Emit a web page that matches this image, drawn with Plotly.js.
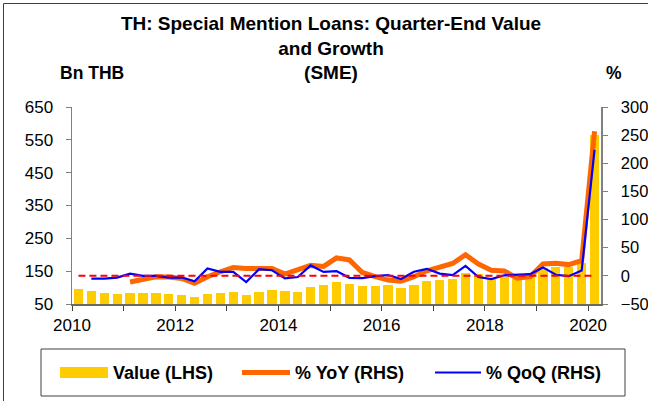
<!DOCTYPE html>
<html>
<head>
<meta charset="utf-8">
<script src="https://cdn.plot.ly/plotly-3.0.1.min.js"></script>
<style>html,body{margin:0;padding:0;background:#fff;}#chart{width:648px;height:401px;}</style>
</head>
<body>
<div id="chart"></div>
<script>
// ---- Data ----
const quarters = [
  '2010Q1','2010Q2','2010Q3','2010Q4','2011Q1','2011Q2','2011Q3','2011Q4',
  '2012Q1','2012Q2','2012Q3','2012Q4','2013Q1','2013Q2','2013Q3','2013Q4',
  '2014Q1','2014Q2','2014Q3','2014Q4','2015Q1','2015Q2','2015Q3','2015Q4',
  '2016Q1','2016Q2','2016Q3','2016Q4','2017Q1','2017Q2','2017Q3','2017Q4',
  '2018Q1','2018Q2','2018Q3','2018Q4','2019Q1','2019Q2','2019Q3','2019Q4',
  '2020Q1'
];
// Value, Bn THB (LHS)
const valueBn = [96, 90, 84, 81, 84, 83, 83, 80, 78, 70,
                 79, 83, 88, 78, 88, 94, 90, 87, 103, 109,
                 117, 111, 106, 106, 107, 100, 107, 119, 124, 125,
                 145, 140, 126, 131, 126, 136, 160, 164, 164, 176,
                 566];
// % YoY (RHS)
const yoyPct = [null, null, null, null,
                -11, -6, -1.5, -2, -4.5, -13, -1.5, 7.3, 15, 13.2,
                12.6, 13.2, 3.2, 11.5, 18.6, 16.8, 32, 28.3, 6, -1.5,
                -7.5, -9.5, -1.5, 9, 16, 22, 37.5, 21, 10, 8.5,
                -4, -1.5, 21, 22.5, 20, 27, 257];
// % QoQ (RHS)
const qoqPct = [null,
                -5, -5, -3, 4, 0, 0, -3, -3, -9.5, 13,
                7, 7, -11, 12, 10, -4.5, -2, 18.5, 7, 8.5,
                -3.5, -4, -0.5, 1.5, -5.7, 7.3, 12.5, 4, 1.4, 17.7,
                -2, -5.7, 1, 1.4, 3, 15, 2, -0.5, 9.5, 224];
const yearTicks = [2010, 2011, 2012, 2013, 2014, 2015, 2016, 2017, 2018, 2019, 2020];
const yearLabels = ['2010', '', '2012', '', '2014', '', '2016', '', '2018', '', '2020'];
const leftTicks = [50, 150, 250, 350, 450, 550, 650];
const rightTicks = [-50, 0, 50, 100, 150, 200, 250, 300];
const seriesNames = ['Value (LHS)', '% YoY (RHS)', '% QoQ (RHS)'];

// quarter label -> position on a continuous year axis (centre of the quarter)
const xPos = quarters.map(q => {
  const y = parseInt(q.slice(0, 4), 10);
  const k = parseInt(q.slice(5), 10);
  return y + (k - 1) / 4 + 0.125;
});

// ---- Layout helpers (pixel -> paper) ----
const W = 648, H = 401;
const M = {l: 72, r: 47, t: 107, b: 97};
const PW = W - M.l - M.r, PH = H - M.t - M.b;
const px = x => (x - M.l) / PW;
const py = y => (H - M.b - y) / PH;

const FONT = '"Liberation Sans", Arial, Helvetica, sans-serif';
const C_BAR = '#FFCC00', C_YOY = '#FF6600', C_QOQ = '#0000FF', C_ZERO = '#FF0000';
const AXIS = '#808080';

const traces = [
  {
    type: 'bar', x: xPos, y: valueBn, name: seriesNames[0], yaxis: 'y',
    width: 0.18, marker: {color: C_BAR, line: {width: 0}}, showlegend: false,
    hoverinfo: 'skip'
  },
  {
    type: 'scatter', mode: 'lines', x: xPos, y: yoyPct, name: seriesNames[1], yaxis: 'y2',
    line: {color: C_YOY, width: 5}, showlegend: false, connectgaps: false
  },
  {
    type: 'scatter', mode: 'lines', x: xPos, y: qoqPct, name: seriesNames[2], yaxis: 'y2',
    line: {color: C_QOQ, width: 2.2}, showlegend: false
  },
  {
    type: 'scatter', mode: 'lines', x: [xPos[0], xPos[xPos.length - 1]], y: [0, 0], yaxis: 'y2',
    line: {color: C_ZERO, width: 2, dash: '7px,4px'}, showlegend: false, hoverinfo: 'skip'
  }
];

const layout = {
  width: W, height: H,
  margin: M,
  paper_bgcolor: '#fff', plot_bgcolor: '#fff',
  font: {family: FONT, size: 17, color: '#000'},
  showlegend: false,
  bargap: 0,
  title: {
    text: '<b>TH: Special Mention Loans: Quarter-End Value<br>and Growth<br>(SME)</b>',
    font: {family: FONT, size: 19, color: '#000'},
    x: 331 / W, xref: 'container', xanchor: 'center',
    y: 1 - 30 / H, yref: 'container', yanchor: 'top'
  },
  xaxis: {
    range: [2010, 2020.25], tickmode: 'array', tickvals: yearTicks, ticktext: yearLabels,
    showgrid: false, zeroline: false, showline: true, linecolor: '#6b6b5a', linewidth: 2,
    ticks: 'outside', ticklen: 5, tickcolor: '#404040', tickwidth: 1,
    tickfont: {family: FONT, size: 17, color: '#000'}, ticklabelstandoff: 0
  },
  yaxis: {
    range: [50, 650], tickmode: 'array', tickvals: leftTicks,
    showgrid: false, zeroline: false, showline: true, linecolor: AXIS, linewidth: 1.5,
    ticks: 'outside', ticklen: 5, tickcolor: AXIS,
    tickfont: {family: FONT, size: 17, color: '#000'}, ticklabelstandoff: 9
  },
  yaxis2: {
    range: [-50, 300], tickmode: 'array', tickvals: rightTicks,
    overlaying: 'y', side: 'right',
    showgrid: false, zeroline: false, showline: true, linecolor: AXIS, linewidth: 1.5,
    ticks: 'outside', ticklen: 5, tickcolor: AXIS,
    tickfont: {family: FONT, size: 16.5, color: '#000'}, ticklabelstandoff: 10
  },
  shapes: [
    // outer chart border (left and top edges visible)
    {type: 'line', xref: 'paper', yref: 'paper', x0: px(3.5), x1: px(3.5), y0: py(3.5), y1: py(401), line: {color: '#404040', width: 1}},
    {type: 'line', xref: 'paper', yref: 'paper', x0: px(3.5), x1: px(648), y0: py(3.5), y1: py(3.5), line: {color: '#404040', width: 1}},
    // legend box
    {type: 'rect', xref: 'paper', yref: 'paper', x0: px(41), x1: px(625), y0: py(349), y1: py(396), line: {color: '#404040', width: 1}, fillcolor: 'rgba(0,0,0,0)'},
    // legend swatches
    {type: 'rect', xref: 'paper', yref: 'paper', x0: px(60), x1: px(108), y0: py(367), y1: py(378), line: {width: 0}, fillcolor: C_BAR},
    {type: 'line', xref: 'paper', yref: 'paper', x0: px(242), x1: px(290), y0: py(372.5), y1: py(372.5), line: {color: C_YOY, width: 5}},
    {type: 'line', xref: 'paper', yref: 'paper', x0: px(435), x1: px(481), y0: py(372.5), y1: py(372.5), line: {color: C_QOQ, width: 2}}
  ],
  annotations: [
    {text: '<b>Bn THB</b>', xref: 'paper', yref: 'paper', x: px(92), y: py(73), xanchor: 'center', yanchor: 'middle', showarrow: false, font: {family: FONT, size: 17.5, color: '#000'}},
    {text: '<b>%</b>', xref: 'paper', yref: 'paper', x: px(614), y: py(73), xanchor: 'center', yanchor: 'middle', showarrow: false, font: {family: FONT, size: 17.5, color: '#000'}},
    {text: '<b>' + seriesNames[0] + '</b>', xref: 'paper', yref: 'paper', x: px(111), y: py(372.5), xanchor: 'left', yanchor: 'middle', showarrow: false, font: {family: FONT, size: 18, color: '#000'}},
    {text: '<b>' + seriesNames[1] + '</b>', xref: 'paper', yref: 'paper', x: px(293), y: py(372.5), xanchor: 'left', yanchor: 'middle', showarrow: false, font: {family: FONT, size: 18, color: '#000'}},
    {text: '<b>' + seriesNames[2] + '</b>', xref: 'paper', yref: 'paper', x: px(484), y: py(372.5), xanchor: 'left', yanchor: 'middle', showarrow: false, font: {family: FONT, size: 18, color: '#000'}}
  ]
};

Plotly.newPlot('chart', traces, layout, {displayModeBar: false, staticPlot: true});
</script>
</body>
</html>
